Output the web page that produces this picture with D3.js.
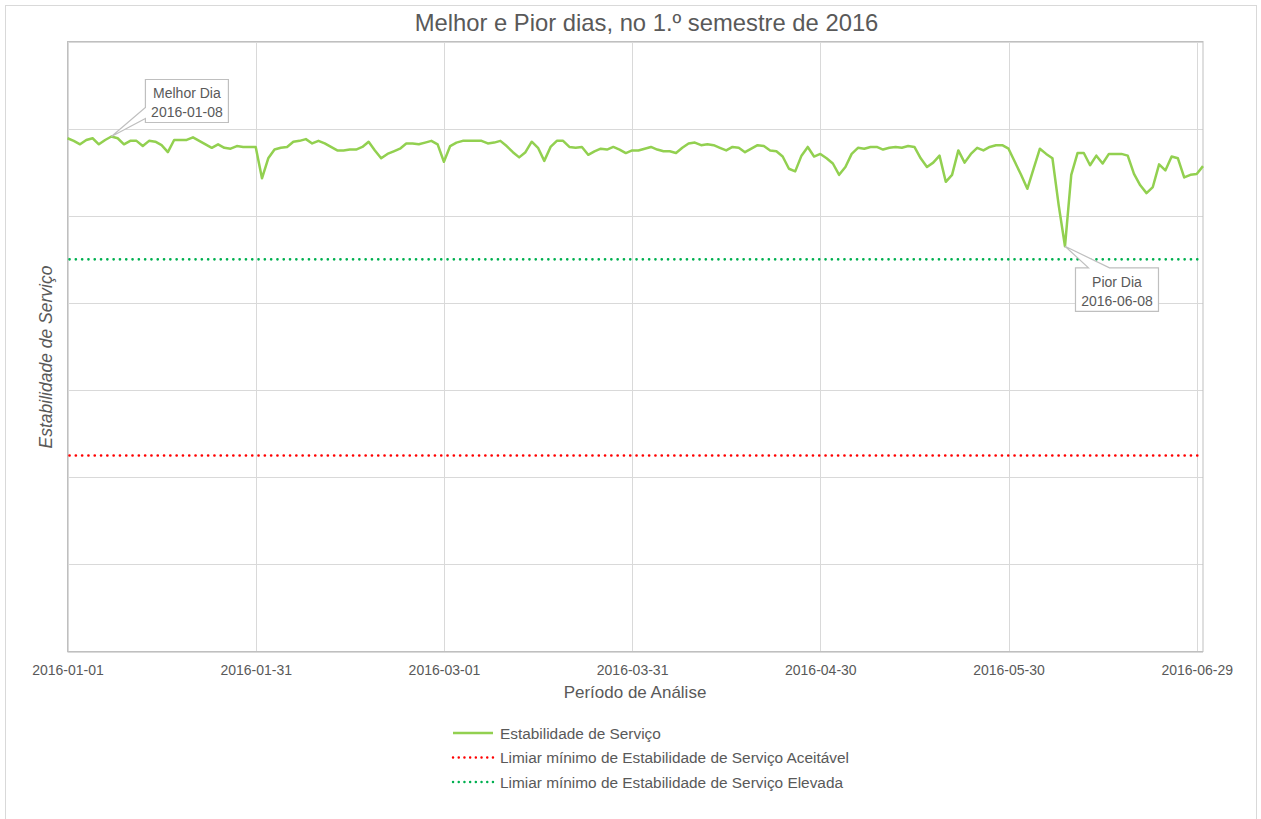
<!DOCTYPE html>
<html>
<head>
<meta charset="utf-8">
<script src="https://cdnjs.cloudflare.com/ajax/libs/d3/7.8.5/d3.min.js"></script>
<style>
  body { margin: 0; background: #fff; }
  svg { display: block; font-family: "Liberation Sans", Arial, sans-serif; }
</style>
</head>
<body>
<svg id="chart" width="1261" height="819"></svg>
<script>
(function () {
    'use strict';

    // first day of the series, one value per day after it
    var startDate = '2016-01-01';

    var stability = [
        88.9, 88.6, 88.2, 88.7, 88.9, 88.2, 88.7, 89.1, 88.9, 88.2,
        88.6, 88.6, 88.0, 88.6, 88.5, 88.1, 87.3, 88.7, 88.7, 88.7,
        89.0, 88.6, 88.2, 87.8, 88.2, 87.8, 87.7, 88.0, 87.9, 87.9,
        87.9, 84.3, 86.6, 87.6, 87.8, 87.9, 88.5, 88.6, 88.8, 88.3,
        88.6, 88.3, 87.9, 87.5, 87.5, 87.6, 87.6, 87.9, 88.5, 87.5,
        86.6, 87.1, 87.4, 87.7, 88.3, 88.3, 88.2, 88.4, 88.6, 88.2,
        86.2, 88.0, 88.4, 88.6, 88.6, 88.6, 88.6, 88.3, 88.4, 88.6,
        88.0, 87.3, 86.7, 87.3, 88.5, 87.8, 86.3, 87.9, 88.6, 88.6,
        87.9, 87.8, 87.9, 87.0, 87.4, 87.7, 87.6, 87.9, 87.6, 87.2,
        87.5, 87.5, 87.7, 87.9, 87.6, 87.4, 87.4, 87.2, 87.8, 88.3,
        88.4, 88.1, 88.2, 88.1, 87.8, 87.5, 87.9, 87.8, 87.3, 87.7,
        88.1, 88.0, 87.5, 87.4, 86.8, 85.4, 85.1, 86.9, 87.9, 86.8,
        87.1, 86.6, 86.0, 84.7, 85.6, 87.1, 87.8, 87.7, 87.9, 87.9,
        87.6, 87.8, 87.9, 87.8, 88.0, 87.9, 86.6, 85.6, 86.1, 86.9,
        83.9, 84.7, 87.5, 86.1, 87.1, 87.8, 87.5, 87.9, 88.1, 88.1,
        87.7, 86.2, 84.7, 83.1, 85.4, 87.7, 87.1, 86.6, 81.2, 76.5,
        84.7, 87.2, 87.2, 85.8, 86.9, 86.0, 87.1, 87.1, 87.1, 86.9,
        84.8, 83.5, 82.6, 83.3, 85.9, 85.2, 86.8, 86.6, 84.4, 84.7,
        84.8, 85.7
    ];

    var thresholdAcceptable = 52.5;
    var thresholdHigh = 75;

    var tickLabels = ['2016-01-01', '2016-01-31', '2016-03-01', '2016-03-31',
        '2016-04-30', '2016-05-30', '2016-06-29'];

    var yTicks = [30, 40, 50, 60, 70, 80, 90, 100];

    var legendLabels = [
        'Estabilidade de Serviço',
        'Limiar mínimo de Estabilidade de Serviço Aceitável',
        'Limiar mínimo de Estabilidade de Serviço Elevada'
    ];

    var textColor = '#595959';
    var lineColor = '#92d050';
    var redColor = '#ff0000';
    var greenColor = '#00b050';

    var parseDate = d3.timeParse('%Y-%m-%d');
    var first = parseDate(startDate);
    var data = stability.map(function (v, i) {
        return { date: d3.timeDay.offset(first, i), value: v };
    });

    var frame = { left: 67.5, right: 1203, top: 41.5, bottom: 651.5 };

    var x = d3.scaleTime()
        .domain([first, data[data.length - 1].date])
        .range([frame.left, frame.right]);

    var y = d3.scaleLinear()
        .domain([30, 100])
        .range([frame.bottom, frame.top]);

    var svg = d3.select('#chart');

    // outer chart border (bottom edge runs off the picture)
    svg.append('rect')
        .attr('x', 5.5).attr('y', 5.5)
        .attr('width', 1251).attr('height', 820)
        .attr('fill', '#fff')
        .attr('stroke', '#d9d9d9');

    svg.append('text')
        .attr('x', 646.5).attr('y', 31)
        .attr('text-anchor', 'middle')
        .attr('fill', textColor)
        .style('font-size', '23.8px')
        .text('Melhor e Pior dias, no 1.º semestre de 2016');

    // gridlines
    var grid = svg.append('g');
    grid.selectAll('line.h')
        .data(yTicks)
        .enter().append('line')
        .attr('x1', frame.left).attr('x2', frame.right)
        .attr('y1', function (d) { return Math.round(y(d)) + 0.5; })
        .attr('y2', function (d) { return Math.round(y(d)) + 0.5; })
        .attr('stroke', '#d9d9d9');

    var tickDates = tickLabels.map(parseDate);
    grid.selectAll('line.v')
        .data(tickDates)
        .enter().append('line')
        .attr('x1', function (d) { return Math.round(x(d)) + 0.5; })
        .attr('x2', function (d) { return Math.round(x(d)) + 0.5; })
        .attr('y1', frame.top).attr('y2', frame.bottom)
        .attr('stroke', '#d9d9d9');

    // plot frame
    svg.append('rect')
        .attr('x', frame.left).attr('y', frame.top)
        .attr('width', frame.right - frame.left)
        .attr('height', frame.bottom - frame.top)
        .attr('fill', 'none')
        .attr('stroke', '#bfbfbf');

    // x axis
    var xAxis = d3.axisBottom(x)
        .tickValues(tickDates)
        .tickFormat(d3.timeFormat('%Y-%m-%d'))
        .tickSize(0)
        .tickPadding(13.5);

    var gx = svg.append('g')
        .attr('transform', 'translate(0,' + frame.bottom + ')')
        .call(xAxis);
    gx.select('.domain').remove();
    gx.selectAll('text')
        .attr('fill', textColor)
        .style('font-size', '14px')
        .style('font-family', '"Liberation Sans", Arial, sans-serif');

    svg.append('text')
        .attr('x', 635).attr('y', 698)
        .attr('text-anchor', 'middle')
        .attr('fill', textColor)
        .style('font-size', '17px')
        .text('Período de Análise');

    svg.append('text')
        .attr('transform', 'translate(52,' + 357 + ') rotate(-90)')
        .attr('text-anchor', 'middle')
        .attr('fill', textColor)
        .style('font-size', '17.5px')
        .style('font-style', 'italic')
        .text('Estabilidade de Serviço');

    // threshold lines
    function threshold(value, color) {
        svg.append('line')
            .attr('x1', frame.left + 2).attr('x2', frame.right - 2)
            .attr('y1', y(value)).attr('y2', y(value))
            .attr('stroke', color)
            .attr('stroke-width', 2.6)
            .attr('stroke-linecap', 'round')
            .attr('stroke-dasharray', '0.1,6.2');
    }
    threshold(thresholdAcceptable, redColor);
    threshold(thresholdHigh, greenColor);

    // main series
    var line = d3.line()
        .x(function (d) { return x(d.date); })
        .y(function (d) { return y(d.value); });

    svg.append('path')
        .datum(data)
        .attr('d', line)
        .attr('fill', 'none')
        .attr('stroke', lineColor)
        .attr('stroke-width', 2.5)
        .attr('stroke-linejoin', 'round');

    // callouts for best and worst day
    var best = data.reduce(function (a, b) { return b.value > a.value ? b : a; });
    var worst = data.reduce(function (a, b) { return b.value < a.value ? b : a; });
    var fmt = d3.timeFormat('%Y-%m-%d');

    function callout(d, title, box, wedge) {
        var px = x(d.date), py = y(d.value);
        var bx = px + box.dx, by = py + box.dy;
        var w = box.w, h = box.h;
        var pts;
        if (wedge === 'left') {
            pts = [[bx, by], [bx + w, by], [bx + w, by + h], [bx, by + h],
                [bx, by + h - 4], [px, py], [bx, by + h - 15]];
        } else {
            pts = [[bx, by], [bx + 13, by], [px, py], [bx + 34, by],
                [bx + w, by], [bx + w, by + h], [bx, by + h]];
        }
        var g = svg.append('g');
        g.append('path')
            .attr('d', 'M' + pts.join('L') + 'Z')
            .attr('fill', '#fff')
            .attr('stroke', '#bfbfbf')
            .attr('stroke-width', 1.2)
            .attr('stroke-linejoin', 'miter');
        g.append('text')
            .attr('x', bx + w / 2).attr('y', by + 19)
            .attr('text-anchor', 'middle')
            .attr('fill', textColor)
            .style('font-size', '14px')
            .text(title);
        g.append('text')
            .attr('x', bx + w / 2).attr('y', by + 38)
            .attr('text-anchor', 'middle')
            .attr('fill', textColor)
            .style('font-size', '14px')
            .text(fmt(d.date));
    }

    callout(best, 'Melhor Dia', { dx: 34, dy: -57, w: 83, h: 43 }, 'left');
    callout(worst, 'Pior Dia', { dx: 10.5, dy: 21.5, w: 83, h: 43.5 }, 'top');

    // legend
    var legend = svg.append('g').attr('transform', 'translate(452,733)');
    var styles = [
        { color: lineColor, dash: null, width: 2.5 },
        { color: redColor, dash: '0.1,5.6', width: 2.4 },
        { color: greenColor, dash: '0.1,5.6', width: 2.4 }
    ];
    legendLabels.forEach(function (label, i) {
        var row = legend.append('g').attr('transform', 'translate(0,' + (i * 24.5) + ')');
        row.append('line')
            .attr('x1', 1).attr('x2', 41)
            .attr('y1', 0).attr('y2', 0)
            .attr('stroke', styles[i].color)
            .attr('stroke-width', styles[i].width)
            .attr('stroke-linecap', styles[i].dash ? 'round' : 'butt')
            .attr('stroke-dasharray', styles[i].dash);
        row.append('text')
            .attr('x', 48).attr('y', 5.5)
            .attr('fill', textColor)
            .style('font-size', '15.4px')
            .text(label);
    });
}());
</script>
</body>
</html>
